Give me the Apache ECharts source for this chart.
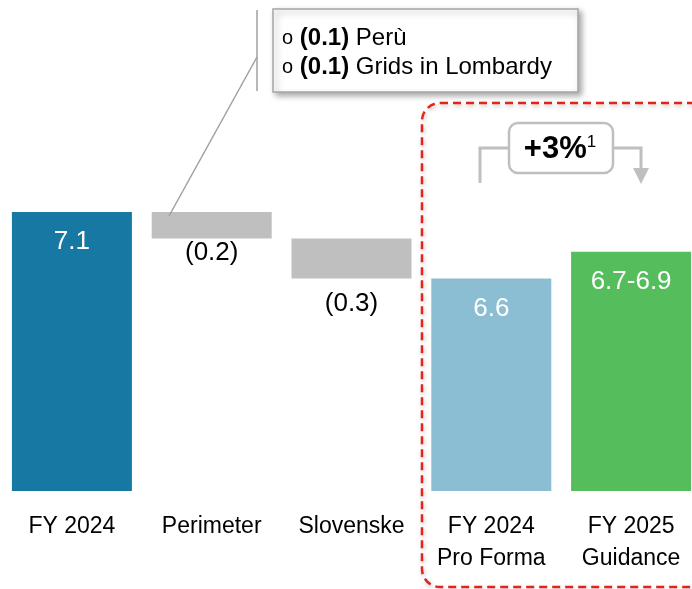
<!DOCTYPE html>
<html>
<head>
<meta charset="utf-8">
<script src="https://cdn.jsdelivr.net/npm/echarts@6/dist/echarts.min.js"></script>
<style>
  html, body { margin: 0; padding: 0; background: #fff; }
  #main { width: 692px; height: 589px; }
</style>
</head>
<body>
<div id="main"></div>
<script>
// bridge data
const categories = ['FY 2024', 'Perimeter', 'Slovenske', 'FY 2024\nPro Forma', 'FY 2025\nGuidance'];
const baseValues = ['-', 6.9, 6.6, '-', '-'];
const barValues = [7.1, 0.2, 0.3, 6.6, 6.8];
const barLabels = ['7.1', '(0.2)', '(0.3)', '6.6', '6.7-6.9'];
const barColors = ['#1878a4', '#bfbfbf', '#bfbfbf', '#8bbed2', '#55bd5c'];
const noteLines = [['(0.1)', 'Perù'], ['(0.1)', 'Grids in Lombardy']];
const growthLabel = '+3%';

const chart = echarts.init(document.getElementById('main'));

const gray = '#bfbfbf';
const font = 'Liberation Sans, Arial, sans-serif';

const valueData = barValues.map((v, i) => {
  const neg = i === 1 || i === 2;
  return {
    value: v,
    itemStyle: { color: barColors[i] },
    label: {
      show: true,
      formatter: barLabels[i],
      position: neg ? 'bottom' : 'insideTop',
      distance: neg ? (i === 1 ? 1 : 12) : 17,
      color: neg ? '#000' : '#fff',
      fontSize: 26,
      fontFamily: font
    }
  };
});

const option = {
  animation: false,
  grid: { left: 2, top: 26, width: 699, bottom: 98, outerBoundsMode: 'none', containLabel: false },
  xAxis: {
    type: 'category',
    data: categories,
    axisLine: { show: false },
    axisTick: { show: false },
    axisLabel: {
      color: '#000',
      fontSize: 23,
      lineHeight: 32,
      margin: 20,
      interval: 0,
      fontFamily: font
    }
  },
  yAxis: {
    type: 'value',
    min: 5,
    max: 8.5,
    show: false,
    splitLine: { show: false }
  },
  series: [
    {
      type: 'bar',
      stack: 'w',
      barWidth: 120,
      clip: true,
      itemStyle: { color: 'transparent' },
      data: baseValues
    },
    {
      type: 'bar',
      stack: 'w',
      barWidth: 120,
      clip: true,
      data: valueData
    }
  ],
  graphic: [
    // red dashed frame
    {
      type: 'rect', z: 0,
      shape: { x: 422, y: 103, width: 286, height: 484, r: 18 },
      style: {
        fill: 'none', stroke: '#e3241b', lineWidth: 2.5, lineDash: [8, 5],
        shadowBlur: 4, shadowOffsetX: 1, shadowOffsetY: 2, shadowColor: 'rgba(0,0,0,0.25)'
      }
    },
    // note callout
    {
      type: 'line', z: 5,
      shape: { x1: 257, y1: 57, x2: 169, y2: 216 },
      style: { stroke: '#a0a0a0', lineWidth: 1.5 }
    },
    {
      type: 'line', z: 5,
      shape: { x1: 257, y1: 10, x2: 257, y2: 91 },
      style: { stroke: '#a0a0a0', lineWidth: 1.5 }
    },
    {
      type: 'rect', z: 5,
      shape: { x: 273, y: 9, width: 305, height: 83 },
      style: {
        fill: '#fff', stroke: '#a6a6a6', lineWidth: 1.5,
        shadowBlur: 6, shadowOffsetX: 3, shadowOffsetY: 3, shadowColor: 'rgba(0,0,0,0.35)'
      }
    },
    ...noteLines.map((ln, i) => ({
      type: 'text', z: 6,
      x: 282, y: 38 + i * 29,
      style: {
        text: '{o|o} {b|' + ln[0] + '} ' + ln[1],
        fontSize: 24, fontFamily: font, fill: '#000', verticalAlign: 'middle',
        rich: {
          o: { fontSize: 20, fontFamily: font },
          b: { fontSize: 24, fontWeight: 'bold', fontFamily: font }
        }
      }
    })),
    // growth bracket
    {
      type: 'polyline', z: 5,
      shape: { points: [[480, 183], [480, 148], [509, 148]] },
      style: { stroke: gray, lineWidth: 3, fill: 'none' }
    },
    {
      type: 'polyline', z: 5,
      shape: { points: [[613, 148], [641, 148], [641, 170]] },
      style: { stroke: gray, lineWidth: 3, fill: 'none' }
    },
    {
      type: 'polygon', z: 5,
      shape: { points: [[633, 168], [649, 168], [641, 184]] },
      style: { fill: gray }
    },
    {
      type: 'rect', z: 5,
      shape: { x: 509, y: 123, width: 104, height: 50, r: 9 },
      style: { fill: '#fff', stroke: gray, lineWidth: 2.5 }
    },
    {
      type: 'text', z: 6,
      x: 560, y: 149,
      style: {
        text: '{p|' + growthLabel + '}{s|1}',
        align: 'center', verticalAlign: 'middle', fill: '#000',
        rich: {
          p: { fontSize: 31, fontWeight: 'bold', fontFamily: font },
          s: { fontSize: 17, fontFamily: font, verticalAlign: 'top', padding: [0, 0, 14, 0] }
        }
      }
    }
  ]
};

chart.setOption(option);
</script>
</body>
</html>
